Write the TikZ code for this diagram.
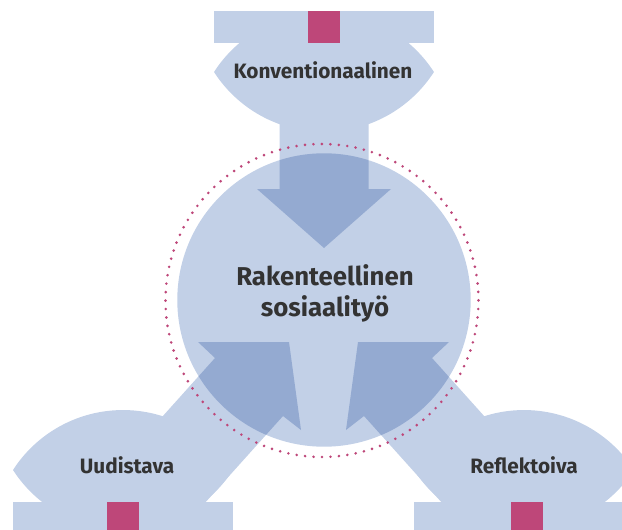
\documentclass[tikz,border=0pt]{standalone}
\usepackage{fontspec}
\setmainfont{Fira Sans}
\definecolor{paleblue}{HTML}{C2D0E7}
\definecolor{deepblue}{HTML}{94AAD1}
\definecolor{berry}{HTML}{BE4779}
\definecolor{ink}{HTML}{333333}

\begin{document}
\begin{tikzpicture}[x=1pt,y=-1pt,
  pale/.style={fill=paleblue},
  deep/.style={fill=deepblue},
  pinkbox/.style={fill=berry},
  dotring/.style={draw=berry,line width=2.9pt,line cap=round,dash pattern=on 0pt off 8.477pt},
  lbl/.style={font=\bfseries\fontsize{20.8}{24}\selectfont,text=ink,inner sep=0pt},
  biglbl/.style={font=\bfseries\fontsize{25.8}{31}\selectfont,text=ink,inner sep=0pt,align=center}]
\useasboundingbox (0,0) rectangle (622,530);
% arrow outlines
\path[save path=\arrowtop] (279.5,100) -- (279.5,189) -- (257,189) -- (324,248) -- (391,189) -- (368.5,189) -- (368.5,100) -- cycle;
\path[save path=\arrowleft] (134.8,447.3) -- (215,358) -- (198,342) -- (289,342) -- (301,430) -- (283,416) -- (202.8,505.3) -- cycle;
\path[save path=\arrowright] (512.2,447.3) -- (432,358) -- (449,342) -- (358,342) -- (346,430) -- (364,416) -- (444.2,505.3) -- cycle;
% top: Konventionaalinen
\fill[pale] (214,43) rectangle (434,11);
\fill[pale] (214,72) arc[start angle=147.2,end angle=32.8,radius=130.83]
  arc[start angle=-32.8,end angle=-147.2,radius=130.83] -- cycle;
% bottom left: Uudistava
\fill[pale] (13,502) rectangle (233,534);
\fill[pale] (13,470) arc[start angle=147.2,end angle=32.8,radius=130.83]
  arc[start angle=-32.8,end angle=-147.2,radius=130.83] -- cycle;
% bottom right: Reflektoiva
\fill[pale] (414,502) rectangle (634,534);
\fill[pale] (414,470) arc[start angle=147.2,end angle=32.8,radius=130.83]
  arc[start angle=-32.8,end angle=-147.2,radius=130.83] -- cycle;
% arrows and the middle circle
\fill[pale, use path=\arrowtop];
\fill[pale, use path=\arrowleft];
\fill[pale, use path=\arrowright];
\fill[pale] (324,300) circle (146.7);
\begin{scope}
  \clip (324,300) circle (146.7);
  \fill[deep, use path=\arrowtop];
  \fill[deep, use path=\arrowleft];
  \fill[deep, use path=\arrowright];
\end{scope}
% squares
\fill[pinkbox] (308,11) rectangle (340,43);
\fill[pinkbox] (107,502) rectangle (139,534);
\fill[pinkbox] (511,502) rectangle (543,534);
\draw[dotring] (322,300.5) circle (156.5);
% texts
\node[lbl] (konv) at (323,70) {Konventionaalinen};
\node[lbl] (uudis) at (127,465) {Uudistava};
\node[lbl] (refle) at (524,465) {Reflektoiva};
\node[biglbl] (rakenne) at (325,293) {Rakenteellinen\\sosiaalityö};
\end{tikzpicture}
\end{document}
